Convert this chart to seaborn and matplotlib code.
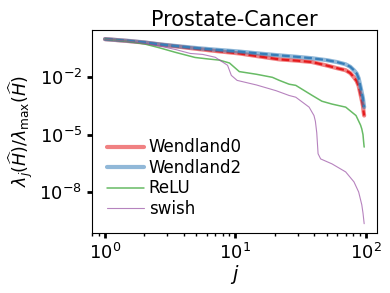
import numpy as np
import matplotlib
matplotlib.use("Agg")
import matplotlib.pyplot as plt
import seaborn as sns

# eigen-spectrum values (log10 of the ratio)
j_w0 = [1, 1.5, 2, 2.6, 3.5, 4.9, 7, 10.7, 15, 21.7, 30, 38.6, 50, 60, 70, 76, 81, 85, 88, 91, 93, 95, 96, 97]
w0 = [0, -0.1, -0.18, -0.28, -0.38, -0.5, -0.62, -0.75, -0.9, -1.06, -1.13, -1.2, -1.38, -1.52, -1.63, -1.78, -2.0, -2.2, -2.45, -2.9, -3.2, -3.5, -3.8, -4.0]
j_w2 = [1, 1.5, 2, 2.6, 3.5, 4.9, 7, 10.7, 15, 21.7, 30, 38.6, 50, 60, 70, 76, 81, 85, 88, 91, 93, 95, 96, 97]
w2 = [0, -0.09, -0.17, -0.27, -0.36, -0.46, -0.55, -0.65, -0.75, -0.85, -0.93, -1.0, -1.1, -1.2, -1.32, -1.45, -1.63, -1.8, -2.05, -2.5, -2.8, -3.1, -3.35, -3.56]
j_relu = [1, 1.5, 2, 2.6, 3.5, 4.9, 6, 7.55, 9, 10.7, 14.5, 19.2, 21.7, 25.8, 29, 38.6, 46, 55, 70, 84, 91, 93, 95, 96, 97]
relu = [0, -0.12, -0.25, -0.45, -0.7, -0.96, -1.03, -1.1, -1.25, -1.7, -1.84, -2.0, -2.16, -2.36, -2.42, -2.94, -3.25, -3.4, -3.56, -4.0, -4.5, -4.7, -5.0, -5.35, -5.65]
j_swish = [1, 1.5, 2, 2.6, 3.5, 4.5, 5.6, 7, 8.7, 9.3, 10.3, 14.5, 20.5, 25.8, 29, 36.7, 40, 41, 42, 43, 45, 55, 70, 81, 88, 93, 95, 97]
swish = [0, -0.11, -0.22, -0.36, -0.55, -0.75, -0.8, -0.95, -1.37, -1.9, -2.16, -2.4, -2.7, -2.95, -3.04, -3.56, -4.0, -4.3, -4.9, -6.0, -6.27, -6.53, -6.95, -7.47, -8.0, -8.67, -9.1, -9.66]

sns.set_style("ticks")
plt.rcParams["font.family"] = ["DejaVu Sans"]
plt.rcParams["mathtext.fontset"] = "dejavusans"
for key in ["text.color", "axes.labelcolor", "xtick.color", "ytick.color", "axes.edgecolor"]:
    plt.rcParams[key] = "black"

fig, ax = plt.subplots(figsize=(3.9, 2.93), dpi=100)
pal = sns.color_palette("Set1")

sns.lineplot(x=j_w0, y=10 ** np.array(w0), ax=ax, color=pal[0], lw=3, alpha=0.55, label="Wendland0")
sns.lineplot(x=j_w0, y=10 ** np.array(w0), ax=ax, color=pal[0], lw=1.6)
sns.lineplot(x=j_w2, y=10 ** np.array(w2), ax=ax, color=pal[1], lw=3, alpha=0.55, label="Wendland2")
sns.lineplot(x=j_w2, y=10 ** np.array(w2), ax=ax, color=pal[1], lw=1.6)
sns.lineplot(x=j_relu, y=10 ** np.array(relu), ax=ax, color=pal[2], lw=1.1, alpha=0.85, label="ReLU")
sns.lineplot(x=j_swish, y=10 ** np.array(swish), ax=ax, color=pal[3], lw=0.8, alpha=0.7, label="swish")
# dashed mean lines on top of the two Wendland bands
for ln in [ax.get_lines()[1], ax.get_lines()[3]]:
    ln.set_linestyle((0, (3.5, 1.5)))

ax.set_xscale("log")
ax.set_yscale("log")
ax.set_yticks([1e-2, 1e-5, 1e-8])
ax.yaxis.set_minor_locator(matplotlib.ticker.NullLocator())
ax.tick_params(axis="both", which="major", labelsize=13, width=2, length=3.5)
ax.tick_params(axis="x", which="minor", width=1, length=2.5)
for sp in ax.spines.values():
    sp.set_linewidth(0.8)
ax.set_title("Prostate-Cancer", fontsize=15, pad=3)
ax.set_xlabel("$j$", fontsize=14, labelpad=0)
ax.set_ylabel(r"$\lambda_j(\widehat{H})/\lambda_{\max}(\widehat{H})$", fontsize=12.5, labelpad=3)

leg = ax.legend(loc="lower left", frameon=False, fontsize=12, handlelength=2.2,
                borderaxespad=0.5, handletextpad=0.3, labelspacing=0.15)
for h in leg.get_lines():
    h.set_linestyle("-")

fig.subplots_adjust(left=0.236, right=0.967, top=0.898, bottom=0.205)
fig.savefig("out.png", dpi=100)
